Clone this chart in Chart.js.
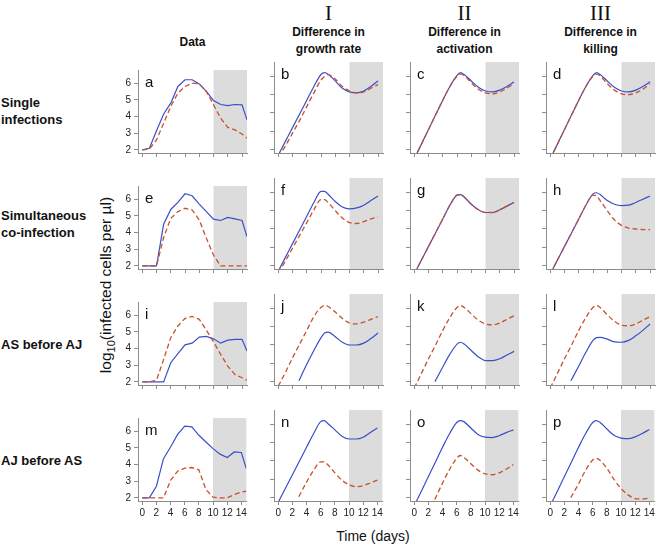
<!DOCTYPE html>
<html>
<head>
<meta charset="utf-8">
<script src="https://cdn.jsdelivr.net/npm/chart.js@4.4.1/dist/chart.umd.min.js"></script>
<style>
  body { margin: 0; background: #fff; width: 661px; height: 546px; position: relative; overflow: hidden;
         font-family: "Liberation Sans", Arial, Helvetica, sans-serif; color: #111; }
  canvas { position: absolute; }
  .txt { position: absolute; white-space: nowrap; transform: translate(-50%, -50%); text-align: center; }
  .roman { font-family: "Liberation Serif", "Times New Roman", serif; font-size: 21px; }
  .head { font-weight: bold; font-size: 12px; line-height: 17px; }
  .rowlab { position: absolute; left: 1px; font-weight: bold; font-size: 13px; line-height: 17px; white-space: nowrap; transform: translateY(-50%); }
  .axtitle { font-size: 14px; }
  .ytitle { font-size: 15.5px; }
</style>
</head>
<body>
<script>
// Tiempos (días)
const obsDays = [0, 1, 2, 3, 4, 5, 6, 7, 8, 9, 10, 11, 12, 13, 14, 14.7];
const modelDays = [0, 1, 2, 3, 4, 5, 6, 6.5, 7, 8, 9, 10, 11, 12, 13, 14];
const lateDays = [2.9, 4, 5, 6, 6.5, 7, 8, 9, 10, 11, 12, 13, 14];

const xTicks = [0, 2, 4, 6, 8, 10, 12, 14];
const yTicks = [2, 3, 4, 5, 6];
const shadeFrom = 10;

const columnTitles = ['Data', 'Difference in\ngrowth rate', 'Difference in\nactivation', 'Difference in\nkilling'];
const columnNumerals = ['', 'I', 'II', 'III'];
const rowTitles = ['Single\ninfections', 'Simultaneous\nco-infection', 'AS before AJ', 'AJ before AS'];
const letters = ['a','b','c','d','e','f','g','h','i','j','k','l','m','n','o','p'];

// Datos (columna 1)
const aBlue = [2.0, 2.1, 3.15, 4.15, 4.8, 5.8, 6.2, 6.2, 5.95, 5.5, 4.95, 4.72, 4.65, 4.72, 4.7, 3.8];
const aRed  = [2.0, 2.05, 2.6, 3.6, 4.6, 5.4, 5.8, 6.0, 5.95, 5.5, 4.7, 3.9, 3.35, 3.2, 2.95, 2.7];
const eBlue = [2.0, 2.0, 2.0, 4.5, 5.38, 5.8, 6.32, 6.2, 5.7, 5.25, 4.8, 4.72, 4.9, 4.82, 4.72, 3.75];
const eRed  = [2.0, 2.0, 2.0, 3.7, 4.85, 5.25, 5.45, 5.35, 4.75, 3.65, 2.65, 2.0, 2.0, 2.0, 2.0, 2.0];
const iBlue = [2.0, 2.0, 2.0, 2.0, 3.15, 3.7, 4.22, 4.32, 4.68, 4.73, 4.58, 4.32, 4.5, 4.55, 4.55, 3.85];
const iRed  = [2.0, 2.0, 2.1, 3.35, 4.65, 5.35, 5.8, 5.92, 5.75, 5.1, 4.4, 3.65, 2.95, 2.45, 2.25, 2.1];
const mBlue = [2.0, 2.0, 2.7, 4.35, 5.05, 5.8, 6.3, 6.25, 5.75, 5.35, 4.95, 4.62, 4.42, 4.75, 4.72, 3.75];
const mRed  = [2.0, 2.0, 2.0, 2.0, 3.05, 3.6, 3.78, 3.82, 3.68, 2.5, 2.05, 2.0, 2.0, 2.2, 2.35, 2.4];

// Modelos I, II, III
const bBlue = [1.7, 2.45, 3.2, 3.95, 4.7, 5.45, 6.1, 6.2, 6.12, 5.75, 5.35, 5.15, 5.1, 5.2, 5.45, 5.75];
const bRed  = [1.6, 2.2, 2.9, 3.6, 4.35, 5.1, 5.8, 6.0, 6.1, 5.85, 5.45, 5.2, 5.1, 5.15, 5.35, 5.55];
const cBlue = [1.5, 2.3, 3.1, 3.9, 4.7, 5.45, 6.05, 6.2, 6.1, 5.75, 5.4, 5.2, 5.15, 5.25, 5.45, 5.7];
const cRed  = [1.5, 2.3, 3.1, 3.9, 4.7, 5.45, 6.0, 6.12, 6.05, 5.65, 5.3, 5.1, 5.05, 5.15, 5.35, 5.6];
const dBlue = [1.5, 2.3, 3.1, 3.9, 4.7, 5.45, 6.05, 6.2, 6.1, 5.75, 5.4, 5.2, 5.15, 5.25, 5.45, 5.7];
const dRed  = [1.5, 2.3, 3.1, 3.9, 4.7, 5.45, 6.0, 6.12, 6.02, 5.6, 5.25, 5.05, 5.0, 5.1, 5.3, 5.6];

const fBlue = [1.7, 2.45, 3.2, 3.95, 4.7, 5.45, 6.05, 6.05, 5.9, 5.5, 5.2, 5.1, 5.15, 5.3, 5.55, 5.8];
const fRed  = [1.6, 2.25, 2.95, 3.65, 4.35, 5.05, 5.6, 5.6, 5.45, 5.0, 4.6, 4.35, 4.3, 4.4, 4.55, 4.65];
const gBlue = [1.55, 2.3, 3.05, 3.8, 4.55, 5.3, 5.85, 5.88, 5.75, 5.35, 5.05, 4.9, 4.9, 5.05, 5.25, 5.45];
const gRed  = [1.55, 2.3, 3.05, 3.8, 4.55, 5.3, 5.85, 5.88, 5.75, 5.35, 5.05, 4.9, 4.9, 5.05, 5.25, 5.45];
const hBlue = [1.55, 2.3, 3.05, 3.8, 4.55, 5.3, 5.92, 5.98, 5.88, 5.55, 5.35, 5.28, 5.3, 5.45, 5.62, 5.8];
const hRed  = [1.55, 2.3, 3.05, 3.8, 4.55, 5.3, 5.85, 5.8, 5.55, 5.0, 4.5, 4.2, 4.05, 4.0, 3.97, 3.97];

const jRed  = [1.75, 2.5, 3.3, 4.05, 4.8, 5.55, 6.05, 6.15, 6.1, 5.8, 5.45, 5.2, 5.15, 5.25, 5.4, 5.55];
const jBlue = [2.05, 2.95, 3.7, 4.4, 4.65, 4.7, 4.45, 4.15, 4.0, 4.0, 4.1, 4.35, 4.65];
const kRed  = [1.65, 2.45, 3.25, 4.0, 4.8, 5.5, 6.05, 6.15, 6.05, 5.7, 5.35, 5.15, 5.1, 5.2, 5.4, 5.6];
const kBlue = [2.0, 2.8, 3.5, 4.05, 4.15, 4.05, 3.7, 3.35, 3.15, 3.15, 3.25, 3.45, 3.65];
const lRed  = [1.65, 2.45, 3.25, 4.0, 4.8, 5.5, 6.05, 6.15, 6.05, 5.65, 5.3, 5.08, 5.05, 5.15, 5.35, 5.55];
const lBlue = [2.05, 2.85, 3.6, 4.25, 4.4, 4.42, 4.32, 4.17, 4.15, 4.25, 4.5, 4.8, 5.15];

const nBlue = [1.75, 2.5, 3.25, 4.0, 4.75, 5.5, 6.15, 6.2, 6.05, 5.7, 5.35, 5.2, 5.2, 5.3, 5.55, 5.8];
const nRed  = [2.05, 2.85, 3.5, 3.95, 3.95, 3.8, 3.35, 2.95, 2.7, 2.6, 2.65, 2.8, 2.95];
const oBlue = [1.55, 2.35, 3.15, 3.95, 4.75, 5.5, 6.1, 6.2, 6.15, 5.8, 5.45, 5.3, 5.28, 5.38, 5.55, 5.7];
const oRed  = [1.9, 2.8, 3.55, 4.15, 4.3, 4.2, 3.85, 3.5, 3.3, 3.25, 3.35, 3.55, 3.8];
const pBlue = [1.55, 2.35, 3.15, 3.95, 4.75, 5.5, 6.1, 6.2, 6.12, 5.75, 5.4, 5.25, 5.22, 5.32, 5.5, 5.72];
const pRed  = [2.0, 2.75, 3.5, 4.05, 4.15, 4.05, 3.6, 3.0, 2.5, 2.15, 1.95, 1.93, 1.98];

// Paneles por fila
const panels = [
  [obsDays, aBlue, obsDays, aRed, false], [modelDays, bBlue, modelDays, bRed, true],
  [modelDays, cBlue, modelDays, cRed, true], [modelDays, dBlue, modelDays, dRed, true],
  [obsDays, eBlue, obsDays, eRed, false], [modelDays, fBlue, modelDays, fRed, true],
  [modelDays, gBlue, modelDays, gRed, true], [modelDays, hBlue, modelDays, hRed, true],
  [obsDays, iBlue, obsDays, iRed, false], [lateDays, jBlue, modelDays, jRed, true],
  [lateDays, kBlue, modelDays, kRed, true], [lateDays, lBlue, modelDays, lRed, true],
  [obsDays, mBlue, obsDays, mRed, false], [modelDays, nBlue, lateDays, nRed, true],
  [modelDays, oBlue, lateDays, oRed, true], [modelDays, pBlue, lateDays, pRed, true]
];

// Geometría
const PLOT_LEFT = [138, 274, 410, 546];
const PLOT_TOP = [62, 178, 294, 410];
const ROW_LABEL_Y = [111, 224, 344, 460];
const PLOT_W = 109, PLOT_H = 91;
const Y_AXIS_W = 24, X_AXIS_H = 22, PAD_TOP = 1, PAD_RIGHT = 2;
const BLUE = '#3a4fc8', RED = '#c9502c', AXIS = '#8c8c8c', SHADE = '#dcdcdc';

Chart.defaults.font.family = "'Liberation Sans', Arial, Helvetica, sans-serif";

function pts(days, vals) {
  return vals.map((v, i) => ({ x: days[i], y: v }));
}

function addText(html, cx, cy, cls) {
  const d = document.createElement('div');
  d.className = 'txt ' + cls;
  d.innerHTML = html;
  d.style.left = cx + 'px';
  d.style.top = cy + 'px';
  document.body.appendChild(d);
  return d;
}

// Sombreado gris y letra del panel
const panelPlugin = {
  id: 'panel',
  beforeDraw(chart, args, opts) {
    const { ctx, chartArea } = chart;
    const x0 = chart.scales.x.getPixelForValue(shadeFrom);
    ctx.save();
    ctx.fillStyle = SHADE;
    ctx.fillRect(x0, chartArea.top, chartArea.right - x0, chartArea.bottom - chartArea.top);
    ctx.restore();
  },
  afterDraw(chart, args, opts) {
    const { ctx, chartArea } = chart;
    ctx.save();
    ctx.fillStyle = '#111';
    ctx.font = "15px 'Liberation Sans', Arial, sans-serif";
    ctx.textBaseline = 'alphabetic';
    ctx.fillText(opts.letter, chartArea.left + 7, chartArea.top + 17);
    ctx.restore();
  }
};

function makePanel(idx) {
  const row = Math.floor(idx / 4), col = idx % 4;
  const [bDays, bVals, rDays, rVals, smooth] = panels[idx];
  const canvas = document.createElement('canvas');
  canvas.width = Y_AXIS_W + PLOT_W + PAD_RIGHT;
  canvas.height = PAD_TOP + PLOT_H + X_AXIS_H;
  canvas.style.left = (PLOT_LEFT[col] - Y_AXIS_W) + 'px';
  canvas.style.top = (PLOT_TOP[row] - PAD_TOP) + 'px';
  document.body.appendChild(canvas);

  const lineOpts = smooth ? { cubicInterpolationMode: 'monotone' } : { tension: 0 };

  new Chart(canvas, {
    type: 'line',
    data: {
      datasets: [
        Object.assign({ data: pts(rDays, rVals), borderColor: RED, borderWidth: 1.3,
          borderDash: [5, 3], pointRadius: 0, fill: false }, lineOpts),
        Object.assign({ data: pts(bDays, bVals), borderColor: BLUE, borderWidth: 1.2,
          pointRadius: 0, fill: false }, lineOpts)
      ]
    },
    options: {
      responsive: false,
      animation: false,
      events: [],
      layout: { padding: { top: PAD_TOP, right: PAD_RIGHT, left: 0, bottom: 0 } },
      plugins: { legend: { display: false }, tooltip: { enabled: false }, panel: { letter: letters[idx] } },
      scales: {
        x: {
          type: 'linear', min: -0.6, max: 14.7,
          afterBuildTicks: s => { s.ticks = xTicks.map(v => ({ value: v })); },
          afterFit: s => { s.height = X_AXIS_H; },
          grid: { drawOnChartArea: false, drawTicks: true, tickLength: 4, color: AXIS },
          border: { color: AXIS, width: 1 },
          ticks: { display: row === 3, font: { size: 10 }, color: '#222', padding: 2, autoSkip: false, maxRotation: 0 }
        },
        y: {
          min: 1.816, max: 6.784,
          afterBuildTicks: s => { s.ticks = yTicks.map(v => ({ value: v })); },
          afterFit: s => { s.width = Y_AXIS_W; },
          grid: { drawOnChartArea: false, drawTicks: true, tickLength: 4, color: AXIS },
          border: { color: AXIS, width: 1 },
          ticks: { display: col === 0, font: { size: 10 }, color: '#222', padding: 3 }
        }
      }
    },
    plugins: [panelPlugin]
  });
}

// Textos
const colCenters = PLOT_LEFT.map(l => l + PLOT_W / 2);
columnNumerals.forEach((t, c) => { if (t) addText(t, colCenters[c], 13, 'roman'); });
columnTitles.forEach((t, c) => {
  const lines = t.split('\n');
  addText(lines.join('<br>'), colCenters[c], lines.length > 1 ? 41 : 42, 'head');
});
rowTitles.forEach((t, r) => {
  const d = document.createElement('div');
  d.className = 'rowlab';
  d.innerHTML = t.split('\n').join('<br>');
  d.style.top = ROW_LABEL_Y[r] + 'px';
  document.body.appendChild(d);
});
addText('log<sub style="font-size:11px">10</sub>(infected cells per µl)', 107, 285, 'ytitle')
  .style.transform = 'translate(-50%, -50%) rotate(-90deg)';
addText('Time (days)', 373, 536, 'axtitle');

panels.forEach((p, i) => makePanel(i));
</script>
</body>
</html>
